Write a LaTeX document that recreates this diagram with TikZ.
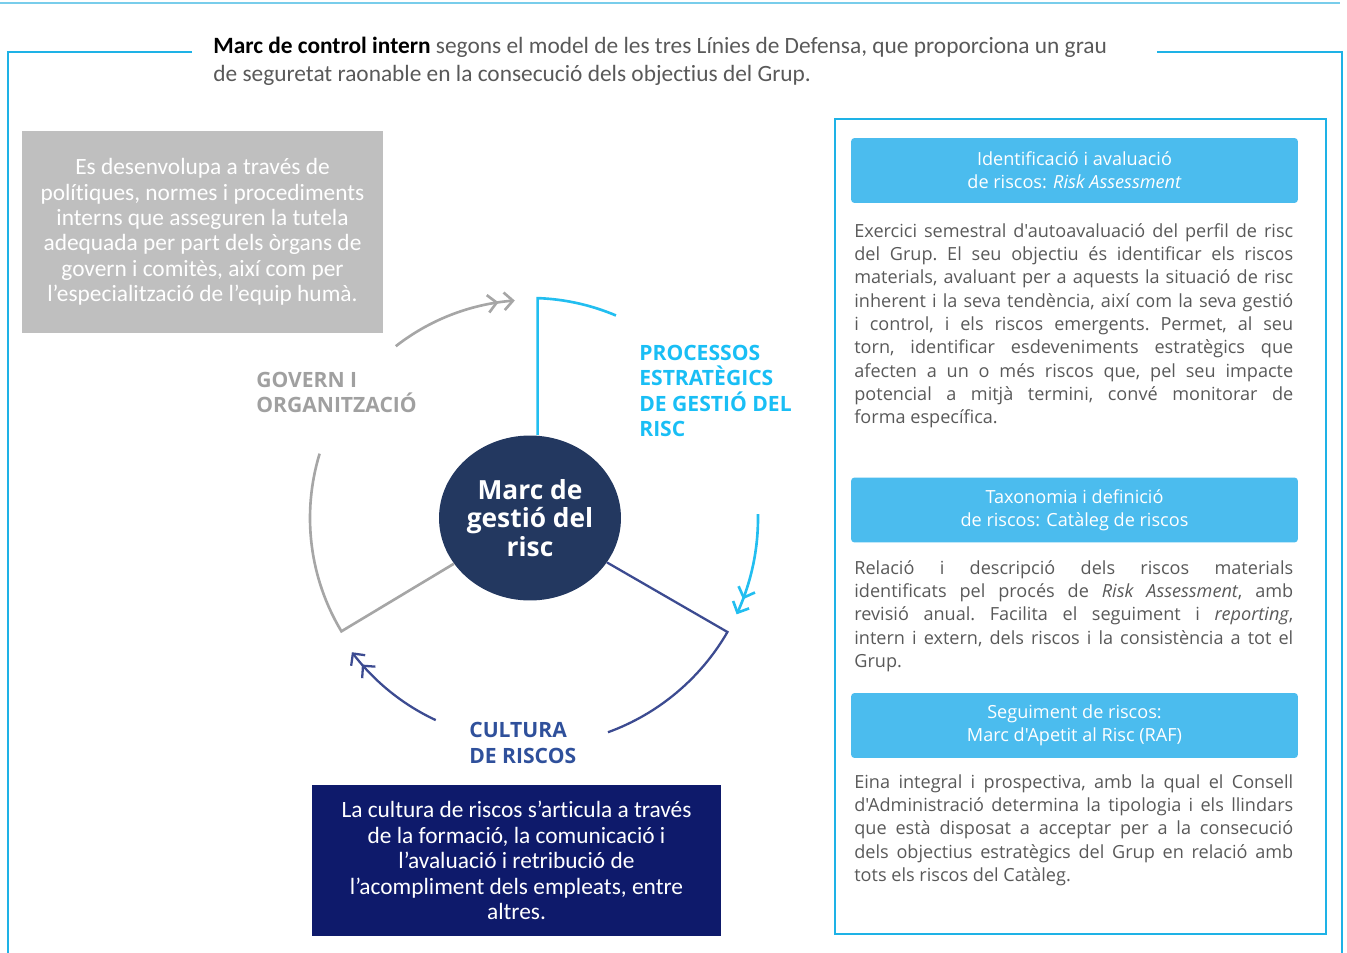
\documentclass[tikz,border=0pt]{standalone}
\usepackage{fontspec}
\setmainfont{Carlito}[Ligatures={TeX,NoCommon}]
\newfontfamily\panelfont{Open Sans}
\usetikzlibrary{arrows.meta, bending, shapes.geometric}

\definecolor{framecyan}{RGB}{30,178,230}
\definecolor{toplinecyan}{RGB}{120,205,235}
\definecolor{headcyan}{RGB}{75,188,238}
\definecolor{panelgray}{RGB}{89,89,89}
\definecolor{titlegray}{RGB}{89,89,89}
\definecolor{notegray}{RGB}{191,191,191}
\definecolor{hubnavy}{RGB}{35,56,96}
\definecolor{boxnavy}{RGB}{14,26,107}
\definecolor{spokegraycol}{RGB}{166,166,166}
\definecolor{spokecyancol}{RGB}{34,190,240}
\definecolor{spokebluecol}{RGB}{60,75,145}
\definecolor{labelgray}{RGB}{160,160,160}
\definecolor{labelcyan}{RGB}{25,190,245}
\definecolor{labelblue}{RGB}{47,80,155}

\tikzset{
  % Set arrowhead
  >=stealth,
  % Double open chevron at the end of the cycle arrows
  dblbarb/.style={-{Straight Barb[length=5pt,width=10pt,sep=2.5pt]
      Straight Barb[length=5pt,width=10pt]}},
  % Frame lines
  topline/.style={toplinecyan, line width=0.8pt},
  outerline/.style={framecyan, line width=1.1pt},
  panelline/.style={framecyan, line width=0.8pt},
  % Heading text
  titletext/.style={anchor=west, align=left, inner sep=0pt, text=titlegray,
    font=\fontsize{13.3}{15.9}\selectfont},
  % Grey note box
  notebox/.style={fill=notegray, text=white, align=center, inner sep=0pt,
    minimum width=7.22cm, minimum height=4.04cm,
    font=\fontsize{13.3}{14.5}\selectfont},
  % Navy note box
  cultbox/.style={notebox, fill=boxnavy, minimum width=8.18cm,
    minimum height=3.02cm},
  % Centre node
  hub/.style={shape=ellipse, fill=hubnavy, text=white, align=center,
    inner sep=0pt, minimum width=3.64cm, minimum height=3.3cm,
    font=\panelfont\bfseries\fontsize{15}{16.4}\selectfont},
  % Cycle labels
  cyclabel/.style={anchor=west, align=left, inner sep=0pt,
    font=\panelfont\bfseries\fontsize{12}{14.5}\selectfont},
  % Cycle spokes
  graystroke/.style={spokegraycol, line width=1.5pt},
  cyanstroke/.style={spokecyancol, line width=1.5pt},
  bluestroke/.style={spokebluecol, line width=1.3pt},
  % Heading bars of the panel
  headbox/.style={fill=headcyan, text=white, align=center, inner sep=0pt,
    rounded corners=2pt, minimum width=8.94cm, minimum height=1.3cm,
    font=\panelfont\fontsize{10.3}{13}\selectfont},
  % Panel paragraphs
  paratext/.style={anchor=base west, text width=8.78cm, align=justify,
    inner sep=0pt, text=panelgray,
    font=\panelfont\frenchspacing\fontsize{10.3}{13.3}\selectfont},
}

\begin{document}
\begin{tikzpicture}[x=0.02cm, y=-0.02cm]
  \useasboundingbox (0,0) rectangle (1347,953);

  \draw[topline] (0,3) -- (1340,3);
  \draw[outerline] (192,52) -- (8,52) -- (8,953);
  \draw[outerline] (1157,52) -- (1342,52) -- (1342,953);

  \node[titletext] (title) at (213,61) {\textcolor{black}{\textbf{Marc de
        control intern}} segons el model de les tres Línies de Defensa, que
    proporciona un grau\\ de seguretat raonable en la consecució dels
    objectius del Grup.};

  \node[notebox] (govnote) at (202.5,232) {Es desenvolupa a través de\\
    polítiques, normes i procediments\\ interns que asseguren la tutela\\
    adequada per part dels òrgans de\\ govern i comitès, així com per\\
    l'especialització de l'equip humà.};

  \node[hub] (hub) at (530,518) {Marc de\\ gestió del\\ risc};

  \begin{scope}[shift={(530,518)}, yscale=-1]
    \coordinate (govcorner) at (211:220);
    \coordinate (proccorner) at (88:220);
    \coordinate (cultcorner) at (-30:228);
    \coordinate (govarrow) at (128:218);
    \coordinate (procarrow) at (1:228);
    \coordinate (cultarrow) at (-115:223);

    \draw[graystroke] (hub) -- (govcorner)
      arc[start angle=211, end angle=163, radius=220];
    \draw[cyanstroke] (proccorner |- hub.north) -- (proccorner)
      arc[start angle=88, end angle=67, radius=220];
    \draw[bluestroke] (hub) -- (cultcorner)
      arc[start angle=-30, end angle=-70, radius=228];

    \draw[graystroke, dblbarb] (govarrow)
      arc[start angle=128, end angle=94, radius=218];
    \draw[cyanstroke, dblbarb] (procarrow)
      arc[start angle=1, end angle=-25, radius=228];
    \draw[bluestroke, dblbarb] (cultarrow)
      arc[start angle=-115, end angle=-143, radius=223];
  \end{scope}

  \node[cyclabel, text=labelgray] (govlabel) at (256,392.5)
    {GOVERN I\\ ORGANITZACIÓ};
  \node[cyclabel, text=labelcyan] (proclabel) at (639,391)
    {PROCESSOS\\ ESTRATÈGICS\\ DE GESTIÓ DEL\\ RISC};
  \node[cyclabel, text=labelblue] (cultlabel) at (469,743)
    {CULTURA\\ DE RISCOS};

  \node[cultbox] (cultnote) at (516.5,860.5) {La cultura de riscos
    s'articula a través\\ de la formació, la comunicació i\\ l'avaluació i
    retribució de\\ l'acompliment dels empleats, entre\\ altres.};

  % right panel
  \draw[panelline] (835,119) rectangle (1326,934);

  \node[headbox] (head1) at (1074.5,170.5)
    {Identificació i avaluació\\ de riscos: \textit{Risk Assessment}};
  \node[paratext] (para1) at (854,237)
    {Exercici semestral d'autoavaluació del perfil de risc\linebreak
    del Grup. El seu objectiu és identificar els riscos\linebreak
    materials, avaluant per a aquests la situació de risc\linebreak
    inherent i la seva tendència, així com la seva gestió\linebreak
    i control, i els riscos emergents. Permet, al seu\linebreak
    torn, identificar esdeveniments estratègics que\linebreak
    afecten a un o més riscos que, pel seu impacte\linebreak
    potencial a mitjà termini, convé monitorar de\linebreak
    forma específica.};

  \node[headbox] (head2) at (1074.5,510)
    {Taxonomia i definició\\ de riscos: Catàleg de riscos};
  \node[paratext] (para2) at (854,574)
    {Relació i descripció dels riscos materials\linebreak
    identificats pel procés de \textit{Risk Assessment}, amb\linebreak
    revisió anual. Facilita el seguiment i \textit{reporting},\linebreak
    intern i extern, dels riscos i la consistència a tot el\linebreak
    Grup.};

  \node[headbox] (head3) at (1074.5,725.5)
    {Seguiment de riscos:\\ Marc d'Apetit al Risc (RAF)};
  \node[paratext] (para3) at (854,788)
    {Eina integral i prospectiva, amb la qual el Consell\linebreak
    d'Administració determina la tipologia i els llindars\linebreak
    que està disposat a acceptar per a la consecució\linebreak
    dels objectius estratègics del Grup en relació amb\linebreak
    tots els riscos del Catàleg.};
\end{tikzpicture}
\end{document}
